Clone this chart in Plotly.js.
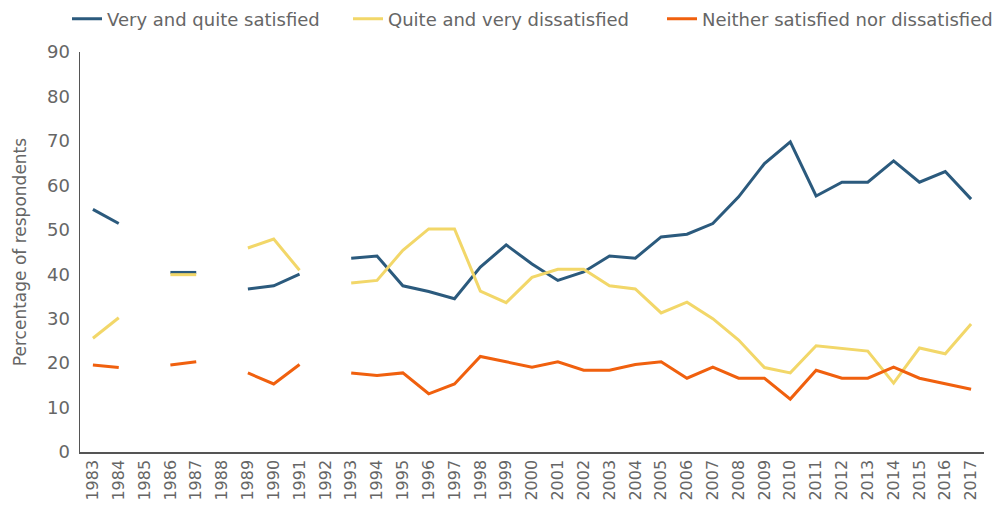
<!DOCTYPE html>
<html>
<head>
<meta charset="utf-8">
<script src="https://cdn.plot.ly/plotly-3.0.1.min.js"></script>
<style>html,body{margin:0;padding:0;background:#fff}#chart{width:997px;height:518px}</style>
</head>
<body>
<div id="chart"></div>
<script>
var years = ['1983','1984','1985','1986','1987','1988','1989','1990','1991','1992','1993','1994','1995','1996','1997','1998','1999','2000','2001','2002','2003','2004','2005','2006','2007','2008','2009','2010','2011','2012','2013','2014','2015','2016','2017'];
var satisfied = [54.6,51.4,null,40.4,40.4,null,36.7,37.4,40.0,null,43.6,44.1,37.4,36.1,34.5,41.6,46.6,42.3,38.6,40.5,44.1,43.6,48.4,49.0,51.4,57.4,64.9,69.8,57.6,60.7,60.7,65.5,60.7,63.1,56.9];
var dissatisfied = [25.6,30.2,null,39.9,39.9,null,45.9,47.9,40.9,null,38.0,38.6,45.4,50.2,50.2,36.2,33.6,39.3,41.1,41.1,37.4,36.7,31.3,33.7,30.0,25.2,19.0,17.8,23.9,23.3,22.7,15.5,23.4,22.1,28.8];
var neither = [19.6,19.0,null,19.6,20.3,null,17.8,15.3,19.7,null,17.8,17.2,17.8,13.1,15.3,21.5,20.3,19.1,20.3,18.4,18.4,19.7,20.3,16.6,19.1,16.6,16.6,11.9,18.4,16.6,16.6,19.1,16.6,15.4,14.1];
var seriesNames = ['Very and quite satisfied','Quite and very dissatisfied','Neither satisfied nor dissatisfied'];
var colors = ['#2b5a7d','#f2d769','#f0600e'];
var yTicks = [0,10,20,30,40,50,60,70,80,90];

var font = '"DejaVu Sans", sans-serif';
var legendIds = ['legend','legend2','legend3'];
var legendX = [67, 348, 662];
var data = [satisfied, dissatisfied, neither].map(function(vals, i){
  return {x: years, y: vals, type:'scatter', mode:'lines', name: seriesNames[i], legend: legendIds[i],
    line:{color: colors[i], width:3}, connectgaps:false, hoverinfo:'x+y'};
});
var layout = {
  width:997, height:518,
  margin:{l:80, r:13, t:52, b:66},
  paper_bgcolor:'#fff', plot_bgcolor:'#fff',
  font:{family: font, color:'#666', size:17},
  showlegend:true,
  xaxis:{type:'category', categoryorder:'array', categoryarray: years, range:[-0.5, years.length-0.5],
    tickangle:-90, showgrid:false, zeroline:false, showline:true, linecolor:'#555', linewidth:1.5, ticks:'', tickfont:{size:16, color:'#666'}, fixedrange:true},
  yaxis:{range:[0,90], tickvals:yTicks, showgrid:false, zeroline:false, showline:true, linecolor:'#555', linewidth:1.5, ticks:'', ticklabelstandoff:5,
    tickfont:{size:18, color:'#666'}, title:{text:'Percentage of respondents', font:{size:17, color:'#666'}, standoff:16}, fixedrange:true}
};
legendIds.forEach(function(id, i){
  layout[id] = {orientation:'h', x:legendX[i]/997, xref:'container', xanchor:'left', y:1-19/518, yanchor:'middle', yref:'container',
    font:{size:18, color:'#666'}, itemwidth:30, bgcolor:'rgba(0,0,0,0)'};
});
Plotly.newPlot('chart', data, layout, {displayModeBar:false, staticPlot:true});
</script>
</body>
</html>
